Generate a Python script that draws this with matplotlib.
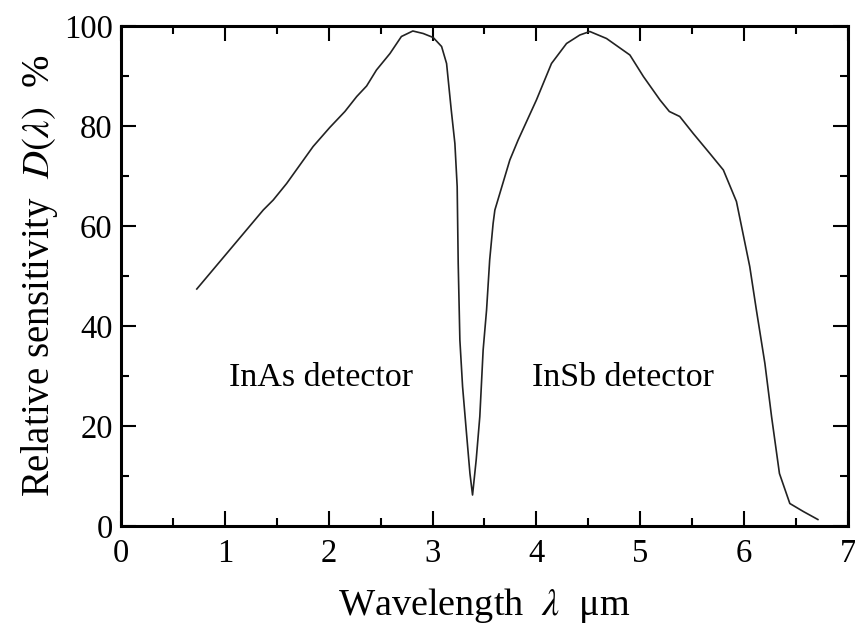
import numpy as np
import matplotlib
matplotlib.use('Agg')
import matplotlib.pyplot as plt
from matplotlib.ticker import MultipleLocator

# InAs detector branch, then the absorption dip and the InSb branch
wavelength = [0.73, 1.37, 1.466, 1.595, 1.85, 2.01, 2.156, 2.27, 2.365, 2.46, 2.59, 2.70, 2.81,
              2.91, 3.006, 3.087, 3.135, 3.18, 3.215, 3.237, 3.247, 3.263, 3.289, 3.327, 3.36,
              3.385, 3.42, 3.455, 3.487, 3.52, 3.55, 3.583, 3.6, 3.744, 3.824, 4.0, 4.145, 4.29,
              4.418, 4.514, 4.675, 4.9, 5.03, 5.19, 5.28, 5.38, 5.51, 5.67, 5.8, 5.926, 6.054,
              6.118, 6.2, 6.264, 6.34, 6.44, 6.57, 6.71]
sensitivity = [47.4, 63.2, 65.2, 68.5, 75.9, 79.7, 82.9, 85.9, 88.0, 91.2, 94.5, 97.9, 99.0,
               98.5, 97.7, 95.9, 92.5, 83.2, 76.5, 67.9, 52.5, 37.2, 27.9, 18.5, 10.5,
               6.2, 13.2, 21.9, 35.2, 43.2, 53.2, 60.5, 63.2, 73.2, 77.2, 85.2, 92.5, 96.5,
               98.2, 98.9, 97.5, 94.2, 89.9, 85.2, 82.9, 81.9, 78.5, 74.5, 71.2, 64.9, 51.9,
               43.2, 32.5, 21.9, 10.5, 4.5, 2.9, 1.3]

plt.rcParams['font.family'] = ['Liberation Serif', 'DejaVu Serif']
plt.rcParams['mathtext.fontset'] = 'stix'

fig = plt.figure(figsize=(8.55, 6.25), dpi=100)
ax = fig.add_axes([0.1415, 0.1584, 0.8503, 0.8])

ax.plot(wavelength, sensitivity, color='#222222', linewidth=1.2)

ax.set_xlim(0, 7)
ax.set_ylim(0, 100)
ax.xaxis.set_major_locator(MultipleLocator(1))
ax.xaxis.set_minor_locator(MultipleLocator(0.5))
ax.yaxis.set_major_locator(MultipleLocator(20))
ax.yaxis.set_minor_locator(MultipleLocator(10))
ax.tick_params(which='both', direction='in', top=True, right=True, width=1.5, labelsize=23.5)
ax.tick_params(which='major', length=11, pad=6)
ax.tick_params(which='minor', length=6)
ax.tick_params(axis='x', which='major', pad=9)
for side in ['top', 'bottom', 'left', 'right']:
    ax.spines[side].set_linewidth(2.2)

ax.set_xlabel(r'Wavelength  $\lambda$  μm', fontsize=27.5, labelpad=12)
ax.set_ylabel(r'Relative sensitivity  $D(\lambda)$  %', fontsize=28, labelpad=3)

ax.text(1.93, 29.7, 'InAs detector', fontsize=24.5, ha='center', va='center')
ax.text(4.83, 29.7, 'InSb detector', fontsize=24.5, ha='center', va='center')

fig.savefig('out.png', dpi=100)
